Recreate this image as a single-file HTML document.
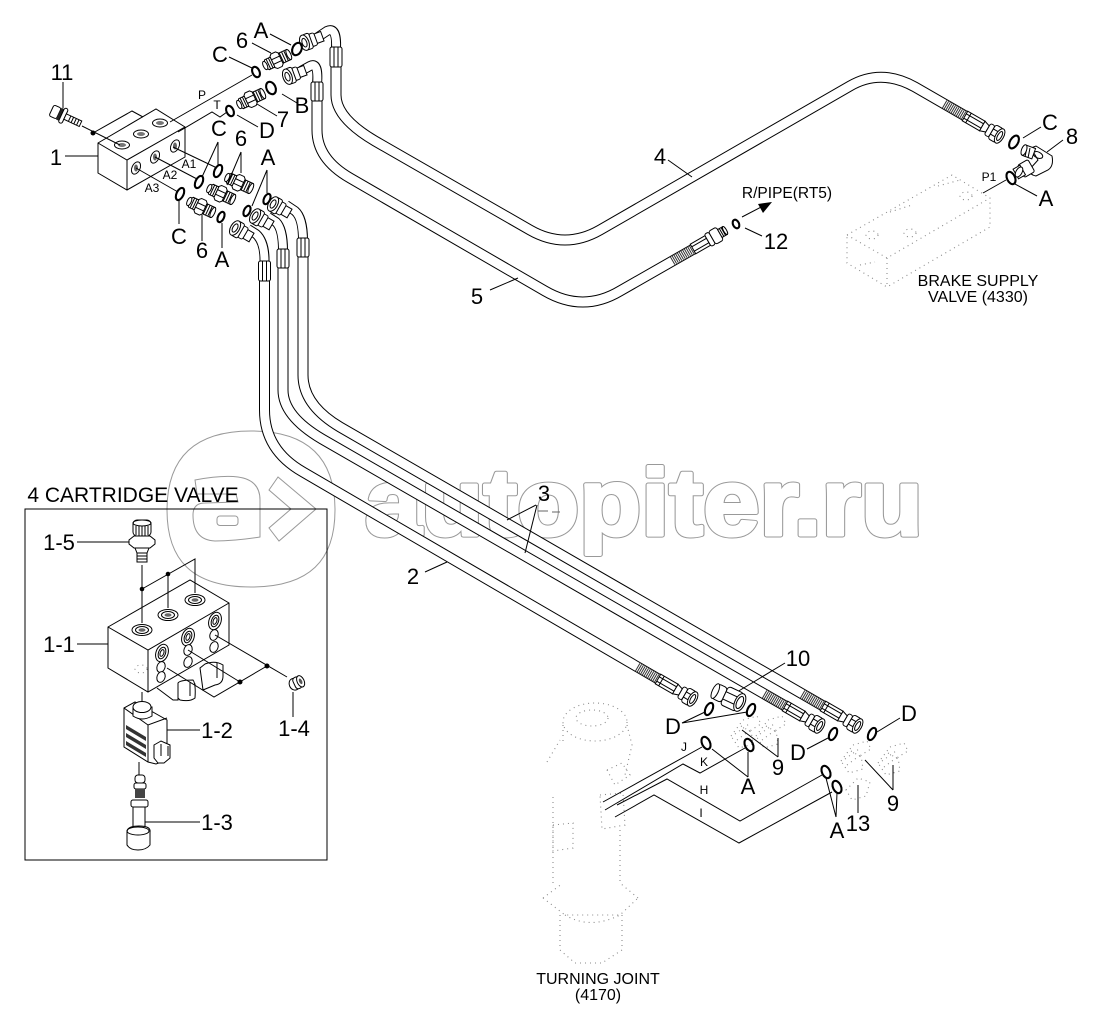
<!DOCTYPE html>
<html><head><meta charset="utf-8"><style>
html,body{margin:0;padding:0;background:#fff}
svg{display:block}
text{font-family:"Liberation Sans",sans-serif;fill:#000;text-anchor:middle}
.l{font-size:22px}.s{font-size:12px}.m{font-size:16px}
.k{fill:none;stroke:#000;stroke-width:1}
.w{fill:#fff;stroke:#000;stroke-width:1}
.o{fill:none;stroke:#000;stroke-width:2.1}
.d{fill:none;stroke:#8a8a8a;stroke-width:1.1;stroke-dasharray:1 4}
.wm{fill:none;stroke:#999;stroke-width:1}
</style></head><body>
<svg width="1095" height="1018" viewBox="0 0 1095 1018" xmlns="http://www.w3.org/2000/svg">
<defs>
<g id="nip">
<rect class="w" x="3" y="-5.500" width="10" height="11"/>
<path d="M5-5.500V5.500M7.500-5.500V5.500M10-5.500V5.500" stroke="#000" stroke-width="1" fill="none"/>
<ellipse class="w" cx="13" cy="0" rx="2" ry="5.500"/>
<path class="w" d="M-5-6L-3-8H2L4-6V6L2 8H-3L-5 6Z"/>
<path class="k" d="M-5-2.500H4M-5 2.500H4"/>
<path class="w" d="M-5-5.500V5.500H-11L-13 3V-3L-11-5.500Z"/>
<path class="k" d="M-7-5.500V5.500M-9.500-5.500V5.500"/>
<ellipse class="w" cx="-13" cy="0" rx="2" ry="4.500"/>
</g>
<g id="nut">
<rect class="w" x="3" y="-5" width="8" height="10"/>
<rect class="w" x="-2" y="-6.500" width="6" height="13" rx="2"/>
<rect class="w" x="-8" y="-8" width="7" height="16" rx="2"/>
<ellipse class="w" cx="-8" cy="0" rx="4.500" ry="8" stroke-width="1.300"/>
<ellipse class="k" cx="-8" cy="0" rx="2.300" ry="4.500" stroke-width="1.500"/>
</g>
<g id="endf">
<line x1="-24" y1="0" x2="-1" y2="0" stroke="#333" stroke-width="9" stroke-dasharray="1 1"/>
<rect class="w" x="0" y="-5.500" width="20" height="11"/>
<path class="k" d="M4-5.500V5.500M0-2.500H20M0 2.500H20"/>
<path class="w" d="M20-5.500L26-3.500V3.500L20 5.500Z"/>
<rect class="w" x="26" y="-6.500" width="5" height="13" rx="2"/>
<rect class="w" x="31" y="-8" width="9" height="16" rx="2.500"/>
<path class="k" d="M31-3H40M31 3H40"/>
<ellipse class="w" cx="40" cy="0" rx="4" ry="8" stroke-width="1.600"/>
<ellipse class="k" cx="40" cy="0" rx="2" ry="5" stroke-width="1.700"/>
</g>
<g id="ghost">
<path class="d" d="M-14 6L-2-10L12-14L16-6L6 0L8 14L-6 18Z M-4-4L6 2"/>
<path class="d" d="M-10 4L4-6M-8 10L8-2"/>
</g>
</defs>

<!-- watermark -->
<path class="wm" d="M251 431C310 431 335 460 335 510C335 560 310 587 251 587C192 587 167 560 167 510C167 460 192 431 251 431Z"/>
<path class="wm" d="M195 480Q222 475 238 477Q260 480 260 500V537Q235 541 215 541Q193 540 193 515Q193 503 205 503L238 502L236 494H197Z"/>
<rect class="wm" x="217" y="516" width="21" height="9.500" rx="3"/>
<path class="wm" d="M278 477L269 490L291 509L269 528L279 541L316 509Z"/>
<g font-size="95" font-weight="bold">
<text x="644" y="535" font-size="95" font-weight="bold" textLength="558" lengthAdjust="spacingAndGlyphs" style="fill:none;stroke:#999;stroke-width:5;stroke-linejoin:round">autopiter.ru</text>
<text x="644" y="535" font-size="95" font-weight="bold" textLength="558" lengthAdjust="spacingAndGlyphs" style="fill:#fff;stroke:#fff;stroke-width:3;stroke-linejoin:round">autopiter.ru</text>
</g>

<!-- ghost brake valve -->
<path class="d" d="M847 235L952 175L990 198V227L887 287L847 263ZM847 235L887 258L990 198M887 258V287"/>
<ellipse class="d" cx="872" cy="235" rx="6" ry="4"/><ellipse class="d" cx="910" cy="233" rx="6" ry="4"/><ellipse class="d" cx="966" cy="196" rx="6" ry="4"/>
<path class="d" d="M890 212L912 205M938 186L960 180M860 265L875 262"/>

<!-- ghost turning joint -->
<ellipse class="d" cx="595" cy="722" rx="32" ry="19"/><ellipse class="d" cx="592" cy="718" rx="16" ry="8"/>
<path class="d" d="M547 762L560 740M563 725V745M627 725L632 745L625 775M553 797V883M620 830V883M543 898L563 883M638 898L620 883M543 898L565 915H620L638 898M560 915V950M622 915V950M575 963H602M560 950L575 963M622 950L602 963"/>
<path class="d" d="M600 795L623 793L625 825L602 829ZM607 770L622 763L630 775L615 785ZM553 825L573 823V848L553 851ZM565 915Q590 930 620 915"/>

<!-- ghost parts -->
<use href="#ghost" x="745" y="730"/><use href="#ghost" x="770" y="730"/><use href="#ghost" x="855" y="755"/><use href="#ghost" x="892" y="757"/>
<path class="d" d="M846 790L858 778L870 782L866 796L852 800Z"/>

<!-- hoses -->
<g fill="none" stroke-linejoin="round">
<path stroke="#000" stroke-width="11" d="M264.500 275V410Q264.500 450 303 472L660 680"/>
<path stroke="#fff" stroke-width="9" d="M264.500 275V410Q264.500 450 303 472L660 680"/>
<path stroke="#000" stroke-width="11" d="M283 262V390Q283 416 322 439L787 707"/>
<path stroke="#fff" stroke-width="9" d="M283 262V390Q283 416 322 439L787 707"/>
<path stroke="#000" stroke-width="11" d="M303 252V375Q303 405 340 427L825 707"/>
<path stroke="#fff" stroke-width="9" d="M303 252V375Q303 405 340 427L825 707"/>
<path stroke="#000" stroke-width="11" d="M336 62V95Q336 118 375 141L530 230Q565 250 600 230L850 86Q881 68 915 87L967 117"/>
<path stroke="#fff" stroke-width="9" d="M336 62V95Q336 118 375 141L530 230Q565 250 600 230L850 86Q881 68 915 87L967 117"/>
<path stroke="#000" stroke-width="11" d="M317 95V130Q317 159 350 178L545 291Q583 313 620 291L697 247"/>
<path stroke="#fff" stroke-width="9" d="M317 95V130Q317 159 350 178L545 291Q583 313 620 291L697 247"/>
<!-- top bends -->
<path stroke="#000" stroke-width="10" d="M318 37L327 31Q337 26 336 48"/><path stroke="#fff" stroke-width="8" d="M318 37L327 31Q337 26 336 50"/>
<path stroke="#000" stroke-width="10" d="M301 71L310 66Q319 61 317 84"/><path stroke="#fff" stroke-width="8" d="M301 71L310 66Q319 61 317 86"/>
<path stroke="#000" stroke-width="10" d="M286 205L295 211Q303 218 303 240"/><path stroke="#fff" stroke-width="8" d="M286 205L295 211Q303 218 303 242"/>
<path stroke="#000" stroke-width="10" d="M268 217L276 222Q283 229 283 250"/><path stroke="#fff" stroke-width="8" d="M268 217L276 222Q283 229 283 252"/>
<path stroke="#000" stroke-width="10" d="M248 229L256 234Q265 242 264.500 262"/><path stroke="#fff" stroke-width="8" d="M248 229L256 234Q265 242 264.500 264"/>
</g>
<!-- ferrules -->
<g>
<rect class="w" x="330" y="47" width="12" height="20" rx="2"/><path class="k" d="M334 47V67M338 47V67"/>
<rect class="w" x="311" y="82" width="12" height="19" rx="2"/><path class="k" d="M315 82V101M319 82V101"/>
<rect class="w" x="297" y="238" width="12" height="19" rx="2"/><path class="k" d="M301 238V257M305 238V257"/>
<rect class="w" x="277" y="249" width="12" height="19" rx="2"/><path class="k" d="M281 249V268M285 249V268"/>
<rect class="w" x="258.500" y="261" width="12" height="20" rx="2"/><path class="k" d="M262.500 261V281M266.500 261V281"/>
</g>

<!-- hose nuts -->
<use href="#nut" transform="translate(312 40) rotate(-20)"/>
<use href="#nut" transform="translate(295 74) rotate(-20)"/>
<use href="#nut" transform="translate(280 208) rotate(30)"/>
<use href="#nut" transform="translate(262 220) rotate(30)"/>
<use href="#nut" transform="translate(242 232) rotate(30)"/>
<!-- hose ends -->
<use href="#endf" transform="translate(658 679) rotate(30)"/>
<use href="#endf" transform="translate(785 706) rotate(30)"/>
<use href="#endf" transform="translate(823 706) rotate(30)"/>
<use href="#endf" transform="translate(965 116) rotate(30)"/>
<g transform="translate(693 249) rotate(-30)">
<line x1="-24" y1="0" x2="-1" y2="0" stroke="#333" stroke-width="9" stroke-dasharray="1 1"/>
<rect class="w" x="0" y="-5.500" width="17" height="11"/><path class="k" d="M0-2.500H17M0 2.500H17"/><rect class="w" x="17" y="-7" width="5" height="14" rx="2"/><rect class="w" x="22" y="-7.500" width="9" height="15" rx="2.500"/><rect class="w" x="31" y="-4.500" width="6" height="9"/><path class="k" d="M33-4.500V4.500M35-4.500V4.500"/><ellipse class="w" cx="37" cy="0" rx="1.500" ry="4.500"/>
</g>

<!-- nipples -->
<use href="#nip" transform="translate(277 60) rotate(-25)"/>
<use href="#nip" transform="translate(251 99) rotate(-25)"/>
<use href="#nip" transform="translate(239 183) rotate(25)"/>
<use href="#nip" transform="translate(221 194) rotate(25)"/>
<use href="#nip" transform="translate(201 207) rotate(25)"/>

<!-- o-rings -->
<g>
<ellipse class="o" cx="297" cy="49" rx="4.500" ry="6.500" transform="rotate(25 297 49)"/>
<ellipse class="o" cx="256" cy="72" rx="3.500" ry="5.500" transform="rotate(-25 256 72)"/>
<ellipse class="o" cx="271" cy="88" rx="4.500" ry="6.500" transform="rotate(-25 271 88)"/>
<ellipse class="o" cx="230" cy="111" rx="3.500" ry="5.500" transform="rotate(-25 230 111)"/>
<ellipse class="o" cx="218" cy="171" rx="3.500" ry="6.500" transform="rotate(25 218 171)"/>
<ellipse class="o" cx="199" cy="182" rx="3.500" ry="6.500" transform="rotate(25 199 182)"/>
<ellipse class="o" cx="180" cy="194" rx="3.500" ry="6.500" transform="rotate(25 180 194)"/>
<ellipse class="o" cx="267" cy="199" rx="3" ry="5.500" transform="rotate(25 267 199)"/>
<ellipse class="o" cx="247" cy="211" rx="3" ry="5.500" transform="rotate(25 247 211)"/>
<ellipse class="o" cx="221" cy="217" rx="3" ry="5.500" transform="rotate(25 221 217)"/>
<ellipse class="o" cx="736" cy="224" rx="3" ry="4.500" transform="rotate(-25 736 224)"/>
<ellipse class="o" cx="1014" cy="142" rx="4" ry="7" transform="rotate(30 1014 142)"/>
<ellipse class="o" cx="1011" cy="178" rx="4" ry="6.500" transform="rotate(-25 1011 178)"/>
<ellipse class="o" cx="709" cy="709" rx="3.500" ry="6.500" transform="rotate(25 709 709)"/>
<ellipse class="o" cx="751" cy="710" rx="3.500" ry="6.500" transform="rotate(25 751 710)"/>
<ellipse class="o" cx="833" cy="734" rx="3.500" ry="6.500" transform="rotate(25 833 734)"/>
<ellipse class="o" cx="872" cy="734" rx="3.500" ry="6.500" transform="rotate(25 872 734)"/>
<ellipse class="o" cx="706" cy="743" rx="4" ry="6.500" transform="rotate(-25 706 743)"/>
<ellipse class="o" cx="749" cy="745" rx="4" ry="6.500" transform="rotate(-25 749 745)"/>
<ellipse class="o" cx="826" cy="772" rx="4" ry="6.500" transform="rotate(-25 826 772)"/>
<ellipse class="o" cx="837" cy="787" rx="4" ry="6.500" transform="rotate(-25 837 787)"/>
</g>

<!-- manifold 1 -->
<path class="w" d="M98 143L156 109L185 127V157L127 190L98 173Z"/>
<path class="k" d="M98 143L127 160L185 127M127 160V190"/>
<g>
<ellipse class="w" cx="122" cy="145" rx="7.500" ry="4"/><ellipse cx="122" cy="145" rx="4" ry="2" fill="#777"/>
<ellipse class="w" cx="141" cy="134" rx="7.500" ry="4"/><ellipse cx="141" cy="134" rx="4" ry="2" fill="#777"/>
<ellipse class="w" cx="160" cy="123" rx="7.500" ry="4"/><ellipse cx="160" cy="123" rx="4" ry="2" fill="#777"/>
<ellipse class="w" cx="136" cy="168" rx="4" ry="6.500" transform="rotate(25 136 168)"/><ellipse cx="136" cy="168" rx="2" ry="3.500" fill="#666"/>
<ellipse class="w" cx="155" cy="157" rx="4" ry="6.500" transform="rotate(25 155 157)"/><ellipse cx="155" cy="157" rx="2" ry="3.500" fill="#666"/>
<ellipse class="w" cx="175" cy="146" rx="4" ry="6.500" transform="rotate(25 175 146)"/><ellipse cx="175" cy="146" rx="2" ry="3.500" fill="#666"/>
</g>
<!-- bolt 11 -->
<g transform="translate(66 117) rotate(25)">
<rect class="w" x="-16" y="-6" width="8" height="12" rx="2"/>
<rect x="-8" y="-6.500" width="3" height="13" fill="#222"/>
<rect class="w" x="-5" y="-8" width="4" height="16" rx="2"/>
<rect class="w" x="-1" y="-3" width="17" height="6"/>
<path class="k" d="M4-3V3M7-3V3M10-3V3M13-3V3"/>
</g>
<circle cx="93" cy="133" r="2.500"/>

<!-- leaders -->
<path class="k" d="M82 126L120 145M93 133L132 111L143 117M65 156H98M63 82V108
M252 75L170 122M227 112L220 117L212 112L178 132M229 57L252 68M252 43L271 53M270 34L291 45M282 94L297 103M257 104L277 116M237 115L258 127
M217 168L173 147M197 179L155 157M178 192L136 168
M218 142V166M218 142L202 177M241 152V173M241 152L227 185M267 170V193M267 170L252 206M179 200V224M202 215V241M222 223V248
M668 160L692 177M490 290L518 278M745 228L762 236M742 217L765 205
M1023 138L1041 127M1047 152L1063 140M1006 180L983 193M1015 184L1037 196
M425 572L447 562M536 505L507 520M537 505L525 553
M737 692L785 663M682 723L705 712M682 723L747 712M778 757V738M778 757L742 730M807 749L828 738M900 718L877 732M893 790V765M893 790L865 760M748 777V752M748 777L712 749M858 813V785M836 817L837 793M836 817L826 778
M603 802L702 747M605 810L683 764L700 773L745 748M617 805L667 779L740 821L822 775M615 817L654 795L739 843L832 792"/>
<path d="M772 202L758 204L763 213Z" fill="#000"/>
<path d="M538 511H548M552 512H560" stroke="#666" stroke-width="1" fill="none"/>

<!-- fitting 8 -->
<g>
<path class="w" d="M1031 148L1036 146L1052 156Q1054 166 1048 170L1036 176Q1030 175 1029 170L1038 160Z"/>
<ellipse class="k" cx="1038" cy="155" rx="5" ry="3" transform="rotate(25 1038 155)"/>
<rect class="w" x="-5" y="-5.500" width="10" height="11" transform="translate(1029 152) rotate(20)"/>
<path class="k" d="M1027 147L1025 157M1030 148L1028 158"/>
<ellipse class="w" cx="1024" cy="150" rx="2.500" ry="5.500" transform="rotate(20 1024 150)"/>
<rect class="w" x="-7" y="-7" width="12" height="14" rx="2" transform="translate(1027 168) rotate(-30)"/>
<rect class="w" x="-6" y="-5.500" width="8" height="11" transform="translate(1021 171) rotate(-30)"/>
<ellipse class="w" cx="1019" cy="172" rx="3" ry="5.500" transform="rotate(30 1019 172)"/>
</g>

<!-- fitting 10 -->
<g transform="translate(728 697) rotate(25)">
<rect class="w" x="-14" y="-8" width="10" height="16" rx="3"/>
<ellipse class="w" cx="-14" cy="0" rx="3" ry="8"/>
<rect class="w" x="-4" y="-10" width="17" height="20" rx="3"/>
<path class="k" d="M-4-4H13M-4 4H13"/>
<ellipse class="w" cx="13" cy="0" rx="5" ry="9.500" stroke-width="1.500"/>
<ellipse class="k" cx="13" cy="0" rx="3" ry="6.500" stroke-width="1.300"/>
</g>

<!-- cartridge box -->
<rect class="k" x="25" y="509" width="302" height="351"/>
<text x="133" y="502" font-size="21">4 CARTRIDGE VALVE</text>

<!-- cartridge coils behind block -->
<path class="w" d="M157 688L173 700H178V684L195 684V696H192"/>
<path class="w" d="M178 683Q180 680 193 680Q196 684 195 698Q190 702 180 700L178 698Z"/>
<path class="w" d="M200 668L203 690L215 685Q223 684 223 676V665Q215 660 205 664Z"/>
<path class="k" d="M190 682V696M217 663V678"/>
<!-- block 1-1 -->
<path class="w" d="M108 627L190 580L229 603V645L148 692L108 668Z"/>
<path class="k" d="M108 627L148 650L229 603M148 650V692"/>
<g>
<ellipse class="w" cx="142" cy="630" rx="10" ry="5.500"/><ellipse class="k" cx="142" cy="630" rx="6.500" ry="3.500"/><ellipse cx="142" cy="630" rx="3.500" ry="1.800" fill="#666"/>
<ellipse class="w" cx="168" cy="615" rx="10" ry="5.500"/><ellipse class="k" cx="168" cy="615" rx="6.500" ry="3.500"/><ellipse cx="168" cy="615" rx="3.500" ry="1.800" fill="#666"/>
<ellipse class="w" cx="195" cy="600" rx="10" ry="5.500"/><ellipse class="k" cx="195" cy="600" rx="6.500" ry="3.500"/><ellipse cx="195" cy="600" rx="3.500" ry="1.800" fill="#666"/>
<ellipse class="w" cx="162" cy="653" rx="6" ry="9" transform="rotate(20 162 653)"/><ellipse class="k" cx="162" cy="653" rx="3.500" ry="6" transform="rotate(20 162 653)"/><ellipse class="k" cx="162" cy="653" rx="1.800" ry="3.500" transform="rotate(20 162 653)"/>
<ellipse class="w" cx="188" cy="637" rx="6" ry="9" transform="rotate(20 188 637)"/><ellipse class="k" cx="188" cy="637" rx="3.500" ry="6" transform="rotate(20 188 637)"/><ellipse class="k" cx="188" cy="637" rx="1.800" ry="3.500" transform="rotate(20 188 637)"/>
<ellipse class="w" cx="215" cy="621" rx="6" ry="9" transform="rotate(20 215 621)"/><ellipse class="k" cx="215" cy="621" rx="3.500" ry="6" transform="rotate(20 215 621)"/><ellipse class="k" cx="215" cy="621" rx="1.800" ry="3.500" transform="rotate(20 215 621)"/>
<ellipse class="w" cx="161" cy="667" rx="4" ry="5.500" transform="rotate(20 161 667)"/><ellipse class="w" cx="161" cy="677" rx="4" ry="5.500" transform="rotate(20 161 677)"/>
<ellipse class="w" cx="188" cy="650" rx="4" ry="5.500" transform="rotate(20 188 650)"/><ellipse class="w" cx="188" cy="662" rx="4" ry="5.500" transform="rotate(20 188 662)"/>
<ellipse class="w" cx="214" cy="635" rx="4" ry="5.500" transform="rotate(20 214 635)"/><ellipse class="w" cx="214" cy="647" rx="4" ry="5.500" transform="rotate(20 214 647)"/>
</g>
<ellipse class="d" cx="141" cy="669" rx="6" ry="4"/>
<path class="k" d="M142 565V623M142 589L195 559V593M168 574V608M77 542H129M77 644H108M215 635L287 677M267 666L214 697L167 668M188 650L240 682M167 730H200M145 822H200M293 692V717M142 692V702M139 762V775"/>
<circle cx="142" cy="589" r="2.300"/><circle cx="168" cy="574" r="2.300"/><circle cx="267" cy="666" r="2.500"/><circle cx="240" cy="682" r="2.500"/>

<!-- 1-5 -->
<rect class="w" x="133" y="520" width="18" height="16" rx="4"/>
<ellipse class="k" cx="142" cy="523" rx="9" ry="3"/>
<path class="k" d="M136 526V535M139 526V536M142 526V536M145 526V536M148 526V535"/>
<path class="w" d="M129 540L134 536H150L155 540V544L150 548H134L129 544Z"/>
<path class="w" d="M135 548H149L147 553H137Z"/>
<rect class="w" x="137" y="553" width="10" height="9"/>
<path class="k" d="M137 556H147M137 559H147"/>
<!-- 1-4 -->
<g transform="translate(297 683) rotate(-25)">
<ellipse class="w" cx="-3" cy="0" rx="5" ry="6"/>
<rect class="w" x="-3" y="-6" width="7" height="12" rx="3"/>
<ellipse class="w" cx="4" cy="0" rx="3.500" ry="6"/><ellipse cx="4" cy="0" rx="1.500" ry="3" fill="#555"/>
</g>
<!-- 1-2 coil -->
<path class="w" d="M124 708L135 702L167 720V738L167 760L156 764L148 762L124 747Z"/>
<path class="k" d="M124 708L148 725L167 718M148 725V762"/>
<path class="w" d="M133 707V716Q142 722 152 716V707Z"/>
<ellipse class="w" cx="142" cy="707" rx="9" ry="5.500"/>
<path d="M126 725L146 737V741L126 729ZM126 733L146 745V749L126 737ZM126 741L146 753V757L126 745Z" fill="#333"/>
<path class="w" d="M154 745L161 741L170 745V758L164 763H158L154 758Z"/>
<path class="k" d="M161 744V756M168 746V756"/>
<!-- 1-3 cartridge -->
<rect class="w" x="135" y="775" width="10" height="8" rx="3"/>
<rect class="w" x="134" y="783" width="12" height="6" rx="2"/>
<path d="M135 789H145V798H135Z" fill="#444"/>
<rect class="w" x="131" y="800" width="17" height="7" rx="2"/>
<rect class="w" x="133" y="807" width="12" height="22"/>
<path class="w" d="M127 832Q127 826 139 826Q151 826 150 832V845Q146 850 138 850Q130 850 127 845Z"/>
<ellipse class="k" cx="138" cy="831" rx="11" ry="4"/>

<!-- labels -->
<g>
<text class="l" x="62" y="80">11</text>
<text class="l" x="56" y="165">1</text>
<text class="l" x="220" y="62">C</text>
<text class="l" x="242" y="48">6</text>
<text class="l" x="261" y="38">A</text>
<text class="l" x="302" y="113">B</text>
<text class="l" x="283" y="127">7</text>
<text class="l" x="267" y="138">D</text>
<text class="l" x="219" y="136">C</text>
<text class="l" x="241" y="146">6</text>
<text class="l" x="268" y="165">A</text>
<text class="l" x="179" y="244">C</text>
<text class="l" x="202" y="258">6</text>
<text class="l" x="222" y="267">A</text>
<text class="l" x="660" y="164">4</text>
<text class="l" x="477" y="304">5</text>
<text class="l" x="776" y="249">12</text>
<text class="l" x="1050" y="130">C</text>
<text class="l" x="1072" y="144">8</text>
<text class="l" x="1046" y="206">A</text>
<text class="l" x="544" y="501">3</text>
<text class="l" x="413" y="584">2</text>
<text class="l" x="798" y="666">10</text>
<text class="l" x="673" y="734">D</text>
<text class="l" x="778" y="775">9</text>
<text class="l" x="748" y="794">A</text>
<text class="l" x="798" y="760">D</text>
<text class="l" x="909" y="721">D</text>
<text class="l" x="893" y="811">9</text>
<text class="l" x="837" y="838">A</text>
<text class="l" x="858" y="831">13</text>
<text class="l" x="59" y="550">1-5</text>
<text class="l" x="59" y="652">1-1</text>
<text class="l" x="217" y="738">1-2</text>
<text class="l" x="217" y="830">1-3</text>
<text class="l" x="294" y="736">1-4</text>
</g>
<text class="s" x="202" y="99">P</text>
<text class="s" x="217" y="109">T</text>
<text class="s" x="189" y="168">A1</text>
<text class="s" x="170" y="179">A2</text>
<text class="s" x="152" y="192">A3</text>
<text class="s" x="989" y="181">P1</text>
<text class="s" x="684" y="751">J</text>
<text class="s" x="704" y="766">K</text>
<text class="s" x="704" y="794">H</text>
<text class="s" x="701" y="817">I</text>
<text x="787" y="198" font-size="15.500">R/PIPE(RT5)</text>
<text class="m" x="978" y="286">BRAKE SUPPLY</text>
<text class="m" x="978" y="302">VALVE (4330)</text>
<text class="m" x="598" y="984">TURNING JOINT</text>
<text class="m" x="598" y="1000">(4170)</text>
</svg>
</body></html>
